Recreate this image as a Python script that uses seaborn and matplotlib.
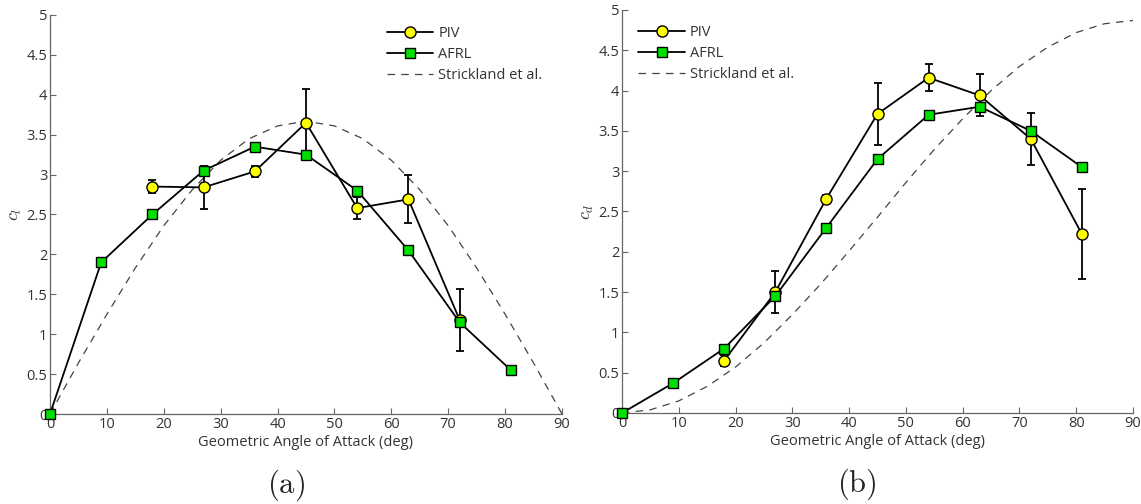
import numpy as np
import pandas as pd
import matplotlib
matplotlib.use("Agg")
import matplotlib.pyplot as plt
import seaborn as sns

# 数据
angle = [0, 9, 18, 27, 36, 45, 54, 63, 72, 81]
piv_angle = [18, 27, 36, 45, 54, 63, 72]
piv_cl = [2.85, 2.84, 3.04, 3.65, 2.58, 2.69, 1.18]
piv_cl_err = [0.08, 0.27, 0.07, 0.42, 0.14, 0.30, 0.39]
afrl_cl = [0.0, 1.90, 2.50, 3.05, 3.35, 3.25, 2.80, 2.05, 1.15, 0.55]

piv_angle_b = [18, 27, 36, 45, 54, 63, 72, 81]
piv_cd = [0.65, 1.50, 2.66, 3.71, 4.16, 3.94, 3.40, 2.22]
piv_cd_err = [0.07, 0.26, 0.05, 0.38, 0.17, 0.26, 0.32, 0.56]
afrl_cd = [0.0, 0.37, 0.80, 1.45, 2.30, 3.15, 3.70, 3.80, 3.50, 3.05]

strick_angle = [0, 5, 10, 15, 20, 25, 30, 35, 40, 45, 50, 55, 60, 65, 70, 75, 80, 85, 90]
strick_cl = [0.0, 0.64, 1.25, 1.83, 2.36, 2.81, 3.18, 3.45, 3.61, 3.67,
             3.61, 3.45, 3.18, 2.81, 2.36, 1.83, 1.25, 0.64, 0.0]
strick_cd = [0.0, 0.04, 0.15, 0.33, 0.57, 0.87, 1.22, 1.60, 2.01, 2.43,
             2.86, 3.27, 3.65, 4.00, 4.30, 4.54, 4.72, 4.83, 4.87]

sns.set_style("ticks")
plt.rcParams['font.family'] = ['Open Sans', 'DejaVu Sans']
plt.rcParams['mathtext.fontset'] = 'cm'
plt.rcParams['xtick.direction'] = 'in'
plt.rcParams['ytick.direction'] = 'in'

axis_gray = "#666666"
text_gray = "#333333"

fig = plt.figure(figsize=(11.41, 5.04), dpi=100)
ax_a = fig.add_axes([50 / 1141, 1 - 414 / 504, 512 / 1141, 399 / 504])
ax_b = fig.add_axes([622 / 1141, 1 - 413 / 504, 511 / 1141, 403 / 504])


def draw_panel(ax, piv_x, piv_y, piv_err, afrl_y, strick_y, ylabel, tag, anchor):
    df_s = pd.DataFrame({"x": strick_angle, "y": strick_y})
    sns.lineplot(data=df_s, x="x", y="y", ax=ax, color="#444444", lw=0.9,
                 linestyle=(0, (6, 5)), label="Strickland et al.", zorder=2)
    ax.errorbar(piv_x, piv_y, yerr=piv_err, fmt="none", ecolor="black",
                elinewidth=1.3, capsize=3, capthick=1.3, zorder=3)
    df_p = pd.DataFrame({"x": piv_x, "y": piv_y})
    sns.lineplot(data=df_p, x="x", y="y", ax=ax, color="black", lw=1.3,
                 marker="o", markersize=8, markerfacecolor="#ffff00",
                 markeredgecolor="black", markeredgewidth=1.0, label="PIV", zorder=4)
    df_a = pd.DataFrame({"x": angle, "y": afrl_y})
    sns.lineplot(data=df_a, x="x", y="y", ax=ax, color="black", lw=1.3,
                 marker="s", markersize=6.5, markerfacecolor="#00e000",
                 markeredgecolor="black", markeredgewidth=1.0, label="AFRL",
                 zorder=5, clip_on=False)

    ax.set_xlim(0, 90)
    ax.set_ylim(0, 5)
    ax.set_xticks(range(0, 91, 10))
    ax.set_yticks(np.arange(0, 5.01, 0.5))
    ax.set_yticklabels(["0", "0.5", "1", "1.5", "2", "2.5", "3", "3.5", "4", "4.5", "5"])
    ax.tick_params(colors=axis_gray, labelcolor=text_gray, labelsize=10.5,
                   length=4, width=0.8, pad=2)
    for side in ["top", "right"]:
        ax.spines[side].set_visible(False)
    for side in ["left", "bottom"]:
        ax.spines[side].set_color(axis_gray)
        ax.spines[side].set_linewidth(0.9)
    ax.set_xlabel("Geometric Angle of Attack (deg)", color=text_gray, fontsize=10.5, labelpad=2)
    ax.set_ylabel(ylabel, color=text_gray, fontsize=13, labelpad=2)

    handles, labels = ax.get_legend_handles_labels()
    order = [labels.index("PIV"), labels.index("AFRL"), labels.index("Strickland et al.")]
    leg = ax.legend([handles[i] for i in order], [labels[i] for i in order],
                    loc="upper left", bbox_to_anchor=anchor, frameon=False, fontsize=10.5,
                    handlelength=3.2, handletextpad=0.35, labelspacing=0.4)
    for t in leg.get_texts():
        t.set_color(text_gray)
    ax.text(0.46, -0.178, tag, transform=ax.transAxes, ha="center", va="center",
            fontsize=22, color="#222222")


draw_panel(ax_a, piv_angle, piv_cl, piv_cl_err, afrl_cl, strick_cl,
           r"$c_l$", r"$\mathrm{(a)}$", (0.632, 1.005))
draw_panel(ax_b, piv_angle_b, piv_cd, piv_cd_err, afrl_cd, strick_cd,
           r"$c_d$", r"$\mathrm{(b)}$", (0.006, 0.995))

fig.savefig("out.png", dpi=100)
